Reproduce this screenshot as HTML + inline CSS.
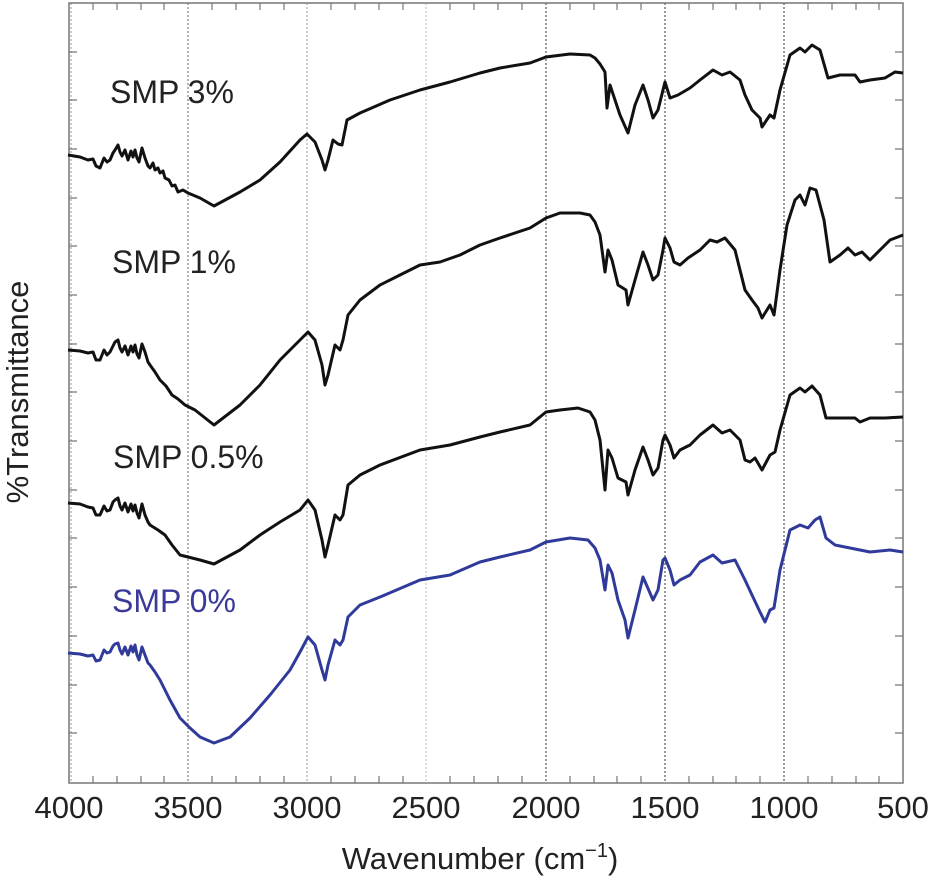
<!DOCTYPE html>
<html><head><meta charset="utf-8"><style>body{margin:0;background:#fff}svg{display:block}</style></head><body>
<svg width="930" height="879" viewBox="0 0 930 879" xmlns="http://www.w3.org/2000/svg" font-family="Liberation Sans, Arial, sans-serif">
<g stroke="#666" stroke-width="1" stroke-dasharray="2,2">
<line x1="188" y1="3" x2="188" y2="783"/><line x1="307" y1="3" x2="307" y2="783" stroke="#999"/>
<line x1="426" y1="3" x2="426" y2="783" stroke="#bbb"/><line x1="546" y1="3" x2="546" y2="783" stroke="#333"/>
<line x1="665" y1="3" x2="665" y2="783" stroke="#333"/><line x1="784" y1="3" x2="784" y2="783" stroke="#333"/>
<line x1="71" y1="3" x2="71" y2="783" stroke="#999"/>
</g>
<rect x="69" y="3" width="834" height="780" fill="none" stroke="#777" stroke-width="1.5"/>
<g stroke="#777" stroke-width="1.2">
<path d="M93 783v-7M117 783v-7M141 783v-7M164 783v-7M212 783v-7M236 783v-7M260 783v-7M284 783v-7M331 783v-7M355 783v-7M379 783v-7M403 783v-7M450 783v-7M474 783v-7M498 783v-7M522 783v-7M570 783v-7M594 783v-7M617 783v-7M641 783v-7M689 783v-7M713 783v-7M736 783v-7M760 783v-7M808 783v-7M832 783v-7M856 783v-7M879 783v-7"/>
<path d="M93 3v7M117 3v7M141 3v7M164 3v7M212 3v7M236 3v7M260 3v7M284 3v7M331 3v7M355 3v7M379 3v7M403 3v7M450 3v7M474 3v7M498 3v7M522 3v7M570 3v7M594 3v7M617 3v7M641 3v7M689 3v7M713 3v7M736 3v7M760 3v7M808 3v7M832 3v7M856 3v7M879 3v7"/>
<path d="M69 733h8M69 685h8M69 636h8M69 587h8M69 538h8M69 490h8M69 441h8M69 392h8M69 344h8M69 295h8M69 246h8M69 198h8M69 149h8M69 100h8M69 52h8"/>
<path d="M903 733h-8M903 685h-8M903 636h-8M903 587h-8M903 538h-8M903 490h-8M903 441h-8M903 392h-8M903 344h-8M903 295h-8M903 246h-8M903 198h-8M903 149h-8M903 100h-8M903 52h-8"/>
</g>
<g fill="none" stroke-width="3" stroke-linejoin="round">
<polyline stroke="#111" points="68,155 80,157 88,160 93,159 96,166 100,168 104,158 107,162 110,160 113,153 115,150 118,145 120,152 122,156 125,150 128,160 131,151 133,157 135,150 137,158 139,162 142,148 145,158 148,166 150,168 153,163 155,170 158,168 160,173 163,171 165,178 169,180 172,186 175,185 178,192 183,190 188,193 200,198 214,206 240,192 260,180 280,162 300,140 307,134 315,142 322,160 325,170 328,160 333,140 338,144 342,145 347,120 360,113 390,100 420,90 450,82 480,73 500,68 530,63 546,57 570,54 590,55 595,58 600,64 605,72 607,108 610,85 615,100 620,115 628,133 635,105 643,85 648,100 653,118 658,110 663,90 665,82 670,98 678,95 690,88 700,80 713,70 722,75 730,72 740,80 745,95 752,110 760,118 762,127 770,115 774,118 780,90 790,55 800,48 805,52 812,45 820,50 828,78 840,75 855,75 860,82 870,80 885,78 895,72 903,73"/>
<polyline stroke="#111" points="68,350 80,351 88,353 93,352 96,360 100,360 104,350 107,355 110,352 113,346 115,342 118,340 120,348 122,352 125,346 128,355 131,346 133,352 135,345 137,354 139,358 142,344 145,352 148,362 150,365 155,372 160,380 166,386 172,395 178,399 185,405 195,410 214,425 240,405 260,385 280,360 300,340 308,332 315,340 322,365 325,385 328,375 335,345 340,350 343,340 348,315 360,300 380,285 400,275 420,265 440,262 460,255 480,245 500,238 530,228 546,218 560,213 580,213 590,215 595,222 600,235 605,272 608,250 612,260 618,285 626,290 628,305 635,280 643,252 648,265 653,280 658,275 663,250 665,238 670,248 674,262 680,265 688,258 700,250 710,240 717,242 725,238 735,250 745,290 752,300 758,308 762,318 770,305 774,315 780,270 787,225 795,200 800,195 805,205 810,188 816,190 824,220 830,262 840,255 848,248 855,255 862,252 870,260 880,250 890,240 903,235"/>
<polyline stroke="#111" points="68,503 80,504 88,507 93,508 96,515 100,515 104,506 107,511 110,510 113,502 115,500 118,498 120,506 122,510 125,503 128,512 131,504 133,511 135,505 137,513 139,518 142,504 145,515 148,522 150,525 158,530 165,535 172,545 180,555 188,557 200,560 214,564 240,550 260,535 280,522 300,510 308,500 315,510 322,540 325,557 328,545 335,515 340,520 343,515 348,485 360,475 380,465 420,450 450,445 480,437 500,432 530,425 546,412 560,410 578,408 590,412 595,420 600,440 605,490 608,450 612,458 618,478 626,482 628,495 635,470 643,447 648,460 653,475 658,468 663,440 665,435 670,445 674,458 680,450 690,445 700,435 713,425 722,433 730,430 740,440 745,460 750,462 755,458 762,470 770,455 775,452 780,430 790,395 800,388 805,392 812,386 820,395 826,418 840,418 855,418 860,422 870,418 885,418 903,417"/>
<polyline stroke="#2f3a9a" points="68,653 80,654 88,656 93,655 96,661 100,660 104,650 107,653 110,652 113,646 115,644 118,643 120,650 122,654 125,647 128,655 131,646 133,652 135,645 137,655 139,660 142,647 145,655 148,663 150,665 155,672 160,680 165,690 170,700 175,709 180,718 190,728 200,737 214,743 230,737 250,718 270,695 290,670 300,652 308,637 315,645 322,670 325,680 328,665 335,640 340,645 343,640 348,617 360,605 380,597 420,580 450,575 480,562 500,557 530,550 546,542 570,538 588,540 595,548 600,560 605,590 608,565 612,573 618,600 625,620 628,638 635,610 643,577 650,593 653,600 658,590 663,560 665,558 670,570 674,585 680,580 690,575 700,562 713,555 722,563 735,560 745,580 752,595 760,612 765,622 770,610 774,608 780,570 790,530 800,525 808,528 815,520 820,517 826,538 835,545 850,548 870,552 890,550 903,552"/>
</g>
<g font-size="32" fill="#222">
<text x="110" y="103">SMP 3%</text>
<text x="112" y="273">SMP 1%</text>
<text x="113" y="468">SMP 0.5%</text>
<text x="112" y="612" fill="#3a3a9a">SMP 0%</text>
</g>
<g font-size="31" fill="#222" text-anchor="middle">
<text x="69" y="818">4000</text><text x="188" y="818">3500</text><text x="307" y="818">3000</text><text x="426" y="818">2500</text><text x="546" y="818">2000</text><text x="665" y="818">1500</text><text x="784" y="818">1000</text><text x="903" y="818">500</text>
<text x="480" y="869">Wavenumber (cm<tspan font-size="20" dy="-12">−1</tspan><tspan dy="12">)</tspan></text>
<text transform="translate(28,392) rotate(-90)">%Transmittance</text>
</g>
</svg>
</body></html>
